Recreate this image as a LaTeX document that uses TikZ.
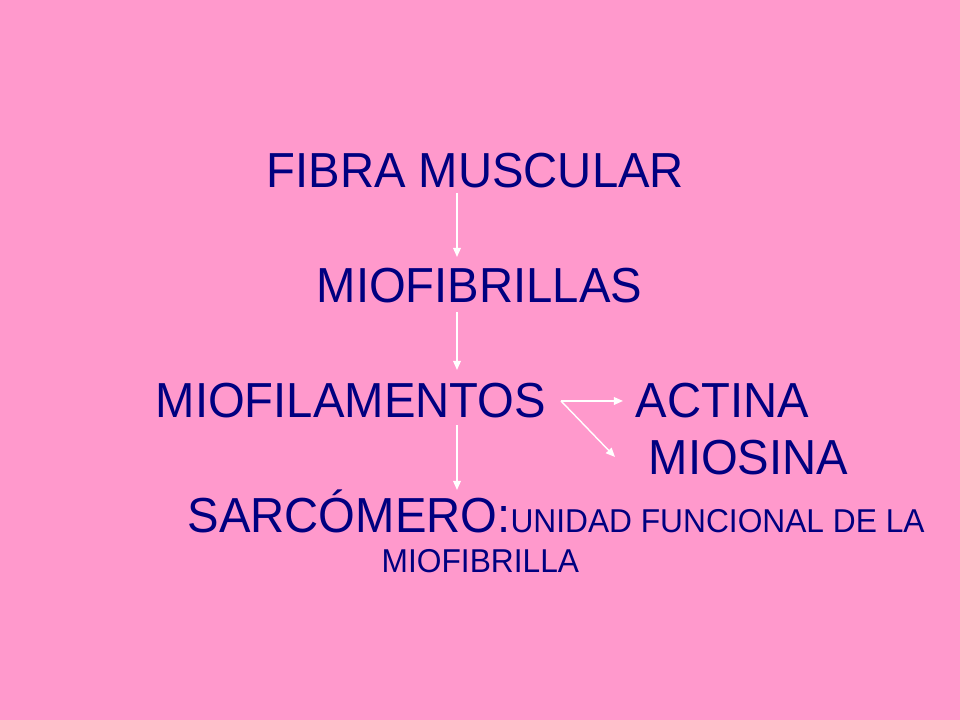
\documentclass[tikz,border=0pt]{standalone}
\usepackage{fontspec}
\setmainfont{Liberation Sans}[FakeStretch=0.96]
\usetikzlibrary{arrows.meta}
\definecolor{fondo}{HTML}{FF99CC}
\definecolor{marino}{HTML}{000080}
\begin{document}
\begin{tikzpicture}[x=1cm,y=1cm,-{Triangle[width=2.2pt,length=2.6pt]}]
  \tikzstyle{label}=[anchor=base west,inner sep=0pt,text=marino,font=\fontsize{14}{17}\selectfont]
  \tikzstyle{small}=[font=\fontsize{9.4}{11}\selectfont]
  \tikzstyle{arrow}=[draw=white,fill=white,line width=0.4pt]
  \fill[fondo] (0,0) rectangle (9.6,7.2);
  \useasboundingbox (0,0) rectangle (9.6,7.2);

  \node[label] (T_1) at (2.66,5.32) {FIBRA MUSCULAR};
  \node[label] (T_2) at (3.16,4.17) {MIOFIBRILLAS};
  \node[label] (T_3) at (1.55,3.02) {MIOFILAMENTOS};
  \node[label] (T_4) at (6.35,3.02) {ACTINA};
  \node[label] (T_5) at (6.48,2.45) {MIOSINA};
  \node[label] (T_6) at (1.87,1.87) {SARCÓMERO:{\fontsize{9.4}{11}\selectfont UNIDAD FUNCIONAL DE LA}};
  \node[label,small] (T_7) at (3.81,1.47) {MIOFIBRILLA};

  \coordinate (A_1) at (4.57,5.27);
  \coordinate (B_1) at (4.57,4.63);
  \coordinate (A_2) at (4.57,4.08);
  \coordinate (B_2) at (4.57,3.50);
  \coordinate (A_3) at (5.61,3.19);
  \coordinate (B_3) at (6.23,3.19);
  \coordinate (B_4) at (6.15,2.63);
  \coordinate (A_5) at (4.57,2.95);
  \coordinate (B_5) at (4.57,2.30);

  \draw[arrow] (A_1) -- (B_1);
  \draw[arrow] (A_2) -- (B_2);
  \draw[arrow] (A_3) -- (B_3);
  \draw[arrow] (A_3) -- (B_4);
  \draw[arrow] (A_5) -- (B_5);
\end{tikzpicture}
\end{document}
